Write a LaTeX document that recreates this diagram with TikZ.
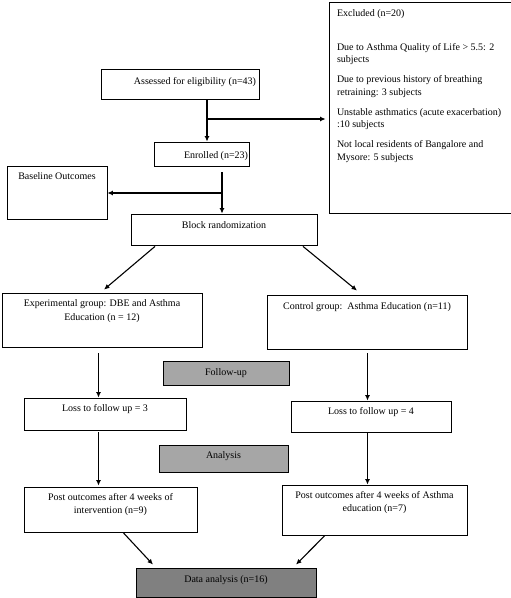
\documentclass[tikz,border=0pt]{standalone}
\usepackage{fontspec}
\setmainfont{Liberation Serif}
\usetikzlibrary{arrows.meta}
\newcommand\flowbox[8]{%
  \node[#6, minimum width={(#4-#2)*1bp}, minimum height={(#5-#3)*1bp}] (#1) at ({(#2+#4)/2},{(#3+#5)/2})
  {\parbox[c][\dimexpr #5bp-#3bp\relax][t]{\dimexpr #4bp-#2bp-2bp\relax}{\centering\vspace*{\dimexpr #7bp-5.25bp\relax}\rule{0pt}{8.75bp}#8\par}};}
\begin{document}
\begin{tikzpicture}[x=1bp,y=-1bp,
  every node/.style={font=\fontsize{10bp}{12.5bp}\selectfont},
  box/.style={draw, line width=0.8bp, inner sep=0pt},
  graybox/.style={box, fill=black!35},
  darkbox/.style={box, fill=black!50},
  arr/.style={-{Latex[length=5.5bp,width=5bp]}, line width=1.1bp}]
\useasboundingbox (0,0) rectangle (511,598);
% boxes
\node[box, minimum width=190bp, minimum height=211bp] (excl) at (424,107.5)
 {\parbox[c][211bp][t]{188bp}{\raggedright\leftskip=7bp\vspace*{5.75bp}\rule{0pt}{8.75bp}Excluded (n=20)\par
 \vspace{21.5bp}\mbox{Due to Asthma Quality of Life > 5.5: 2}\\ subjects\par
 \vspace{7.5bp}\mbox{Due to previous history of breathing}\\ retraining: 3 subjects\par
 \vspace{7.5bp}\mbox{Unstable asthmatics (acute exacerbation)}\\ :10 subjects\par
 \vspace{7.5bp}\mbox{Not local residents of Bangalore and}\\ Mysore: 5 subjects\par}};
\flowbox{assess}{101}{69}{259}{99}{box}{12}{\hspace*{30bp}Assessed for eligibility (n=43)}
\flowbox{enrol}{154}{142}{249}{166}{box}{13}{\hspace*{29bp}Enrolled (n=23)}
\flowbox{base}{7}{166}{107}{219}{box}{10}{Baseline Outcomes}
\flowbox{block}{131}{214}{317}{245}{box}{11}{Block randomization}
\flowbox{exp}{2}{293}{202}{347}{box}{10}{\fontsize{10bp}{14.3bp}\selectfont Experimental group: DBE and Asthma\\ Education (n = 12)}
\flowbox{ctrl}{267}{295}{467}{349}{box}{11}{Control group:\ \ Asthma Education (n=11)}
\flowbox{follow}{163}{361}{289}{385}{graybox}{11}{Follow-up}
\flowbox{lossL}{24}{398}{186}{430}{box}{10}{Loss to follow up = 3}
\flowbox{lossR}{291}{401}{451}{432}{box}{10}{Loss to follow up = 4}
\flowbox{anal}{159}{445}{288}{472}{graybox}{10}{Analysis}
\flowbox{postL}{24}{487}{197}{532}{box}{10}{\fontsize{10bp}{13.3bp}\selectfont Post outcomes after 4 weeks of\\ intervention (n=9)}
\flowbox{postR}{282}{485}{467}{535}{box}{10}{\fontsize{10bp}{13.3bp}\selectfont Post outcomes after 4 weeks of Asthma\\ education (n=7)}
\flowbox{data}{136}{568}{316}{597}{darkbox}{11}{Data analysis (n=16)}
% connectors
\coordinate (xa) at (207,0);
\draw[arr] (assess.south -| xa) -- (enrol.north -| xa);
\coordinate (j1) at (207,119);
\draw[arr] (j1) -- ([xshift=-3bp]j1 -| excl.west);
\coordinate (xb) at (222,0);
\path (enrol.south) ++(0,6) coordinate (e1);
\draw[arr] (e1 -| xb) -- (block.north -| xb);
\coordinate (j2) at (222,193);
\draw[arr] (j2) -- (j2 -| base.east);
\draw[arr] ([xshift=-69bp,yshift=-1bp]block.south) -- ([xshift=2bp,yshift=3bp]exp.north);
\draw[arr] ([xshift=79bp,yshift=-1bp]block.south) -- ([xshift=-10bp,yshift=4bp]ctrl.north);
\coordinate (xl) at (98.5,0);
\coordinate (xr) at (367.5,0);
\path (exp.south) ++(0,6) coordinate (e2);
\path (ctrl.south) ++(0,4) coordinate (e3);
\draw[arr] (e2 -| xl) -- (lossL.north -| xl);
\draw[arr] (e3 -| xr) -- (lossR.north -| xr);
\path (lossL.south) ++(0,2) coordinate (e4);
\path (lossR.south) ++(0,1) coordinate (e5);
\draw[arr] (e4 -| xl) -- ([yshift=1bp]postL.north -| xl);
\draw[arr] (e5 -| xr) -- (postR.north -| xr);
\draw[arr] ([xshift=12.5bp]postL.south) -- ([xshift=-73bp,yshift=3bp]data.north);
\draw[arr] ([xshift=-49.5bp]postR.south) -- ([xshift=70bp,yshift=3bp]data.north);
\end{tikzpicture}
\end{document}
